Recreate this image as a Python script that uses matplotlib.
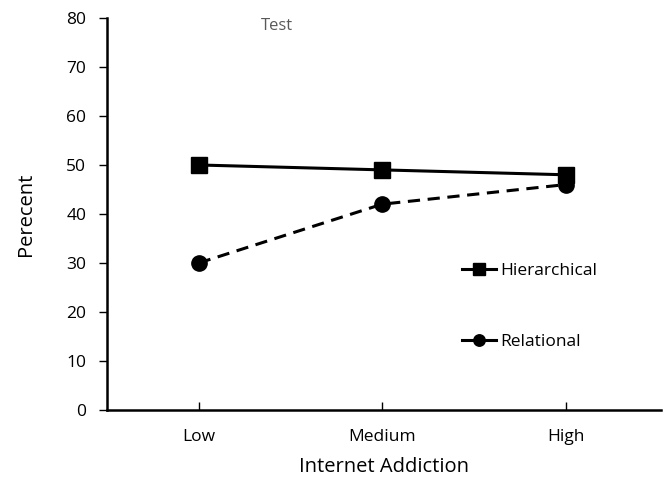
import matplotlib.pyplot as plt
import numpy as np

plt.rcParams['font.family'] = ['Open Sans', 'DejaVu Sans']

# Data
categories = ['Low', 'Medium', 'High']
hierarchical = [50, 49, 48]
relational = [30, 42, 46]

x = np.arange(len(categories))

fig = plt.figure(figsize=(6.66, 4.82), dpi=100)
ax = fig.add_axes([0.1607, 0.1494, 0.8318, 0.8133])

ax.plot(x, hierarchical, color='black', lw=2.2, marker='s', ms=11,
        label='Hierarchical')
ax.plot(x, relational, color='black', lw=2.2, ls=(0, (4, 2.5)), marker='o',
        ms=11, label='Relational')

ax.set_xlim(-0.5, 2.52)
ax.set_ylim(0, 80)
ax.set_yticks(np.arange(0, 81, 10))
ax.set_xticks(x)
ax.set_xticklabels(categories)

for s in ['top', 'right']:
    ax.spines[s].set_visible(False)
for s in ['left', 'bottom']:
    ax.spines[s].set_linewidth(1.8)

ax.tick_params(axis='y', direction='out', length=6, width=1, labelsize=12.5, pad=9)
ax.tick_params(axis='x', direction='in', length=6, width=1, labelsize=12.5, pad=14)

ax.set_ylabel('Perecent', fontsize=14.5, labelpad=22)
ax.set_xlabel('Internet Addiction', fontsize=14.5, labelpad=8)

fig.text(277 / 666, 1 - 26 / 482, 'Test', fontsize=12,
         color='#595959', ha='center', va='center')

leg = ax.legend(loc='upper left', bbox_to_anchor=(446 / 666, 1 - 247 / 482),
                bbox_transform=fig.transFigure, frameon=False, fontsize=12.5,
                handlelength=2.0, handletextpad=0.2, labelspacing=3.2,
                markerscale=0.75)
for line in leg.get_lines():
    line.set_linestyle('-')

fig.savefig('out.png', dpi=100)
